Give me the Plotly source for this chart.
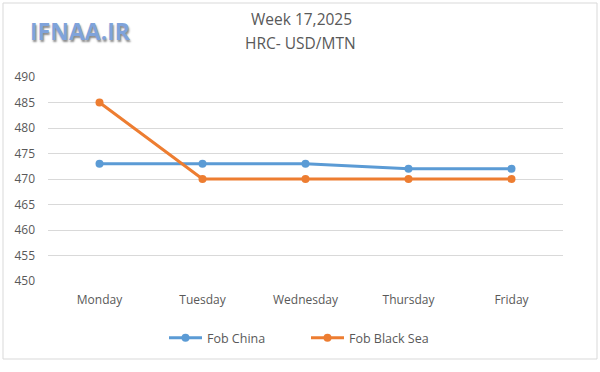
import plotly.graph_objects as go

days = ["Monday", "Tuesday", "Wednesday", "Thursday", "Friday"]
fob_china = [473, 473, 473, 472, 472]
fob_black_sea = [485, 470, 470, 470, 470]
y_ticks = [450, 455, 460, 465, 470, 475, 480, 485, 490]

fig = go.Figure()
fig.add_trace(go.Scatter(x=days, y=fob_china, name="Fob China", mode="lines+markers",
                         line=dict(color="#5B9BD5", width=3), marker=dict(size=8, color="#5B9BD5")))
fig.add_trace(go.Scatter(x=days, y=fob_black_sea, name="Fob Black Sea", mode="lines+markers",
                         line=dict(color="#ED7D31", width=3), marker=dict(size=8, color="#ED7D31")))

W, H = 600, 372
L, T = 48, 77
R = W - 563
B = H - 281
pw, ph = W - L - R, H - T - B

def px(x):
    return (x - L) / pw

def py(y):
    return (H - B - y) / ph

fig.update_layout(
    width=W, height=H,
    margin=dict(l=L, r=R, t=T, b=B),
    paper_bgcolor="white", plot_bgcolor="white",
    font=dict(family="Open Sans, Liberation Sans, sans-serif", color="#595959", size=12),
    showlegend=True,
    legend=dict(orientation="h", x=px(306), xanchor="center", y=py(338), yanchor="middle",
                font=dict(size=12.5, color="#595959"), itemwidth=33, entrywidth=94,
                bgcolor="rgba(0,0,0,0)"),
    xaxis=dict(type="category", range=[-0.5, 4.5], showgrid=False, showline=False,
               ticks="", tickfont=dict(size=12, color="#595959"), ticklabelstandoff=10),
    yaxis=dict(range=[450, 490], tickvals=y_ticks, showgrid=True, gridcolor="#D9D9D9",
               gridwidth=1, zeroline=False, showline=False, ticks="",
               tickfont=dict(size=12, color="#595959"), ticklabelstandoff=12),
    shapes=[dict(type="rect", xref="paper", yref="paper",
                 x0=px(3), x1=px(597), y0=py(359), y1=py(3),
                 line=dict(color="#D9D9D9", width=1), fillcolor="rgba(0,0,0,0)", layer="below")],
    annotations=[
        dict(text="Week 17,2025", xref="paper", yref="paper",
             x=px(301), y=py(19), xanchor="center", yanchor="middle", showarrow=False,
             font=dict(size=15.5, color="#595959")),
        dict(text="HRC- USD/MTN", xref="paper", yref="paper",
             x=px(300), y=py(43), xanchor="center", yanchor="middle", showarrow=False,
             font=dict(size=15.5, color="#595959")),
        dict(text="<b>IFNAA.IR</b>", xref="paper", yref="paper",
             x=px(80), y=py(31), xanchor="center", yanchor="middle", showarrow=False,
             font=dict(size=23, color="#7FA3DB", family="Open Sans, sans-serif",
                       shadow="1px 2px 2px #8a8a8a")),
    ],
)

fig.write_html("out.html", config={"displayModeBar": False},
               post_script="document.body.style.margin='0px';document.body.style.overflow='hidden';")
